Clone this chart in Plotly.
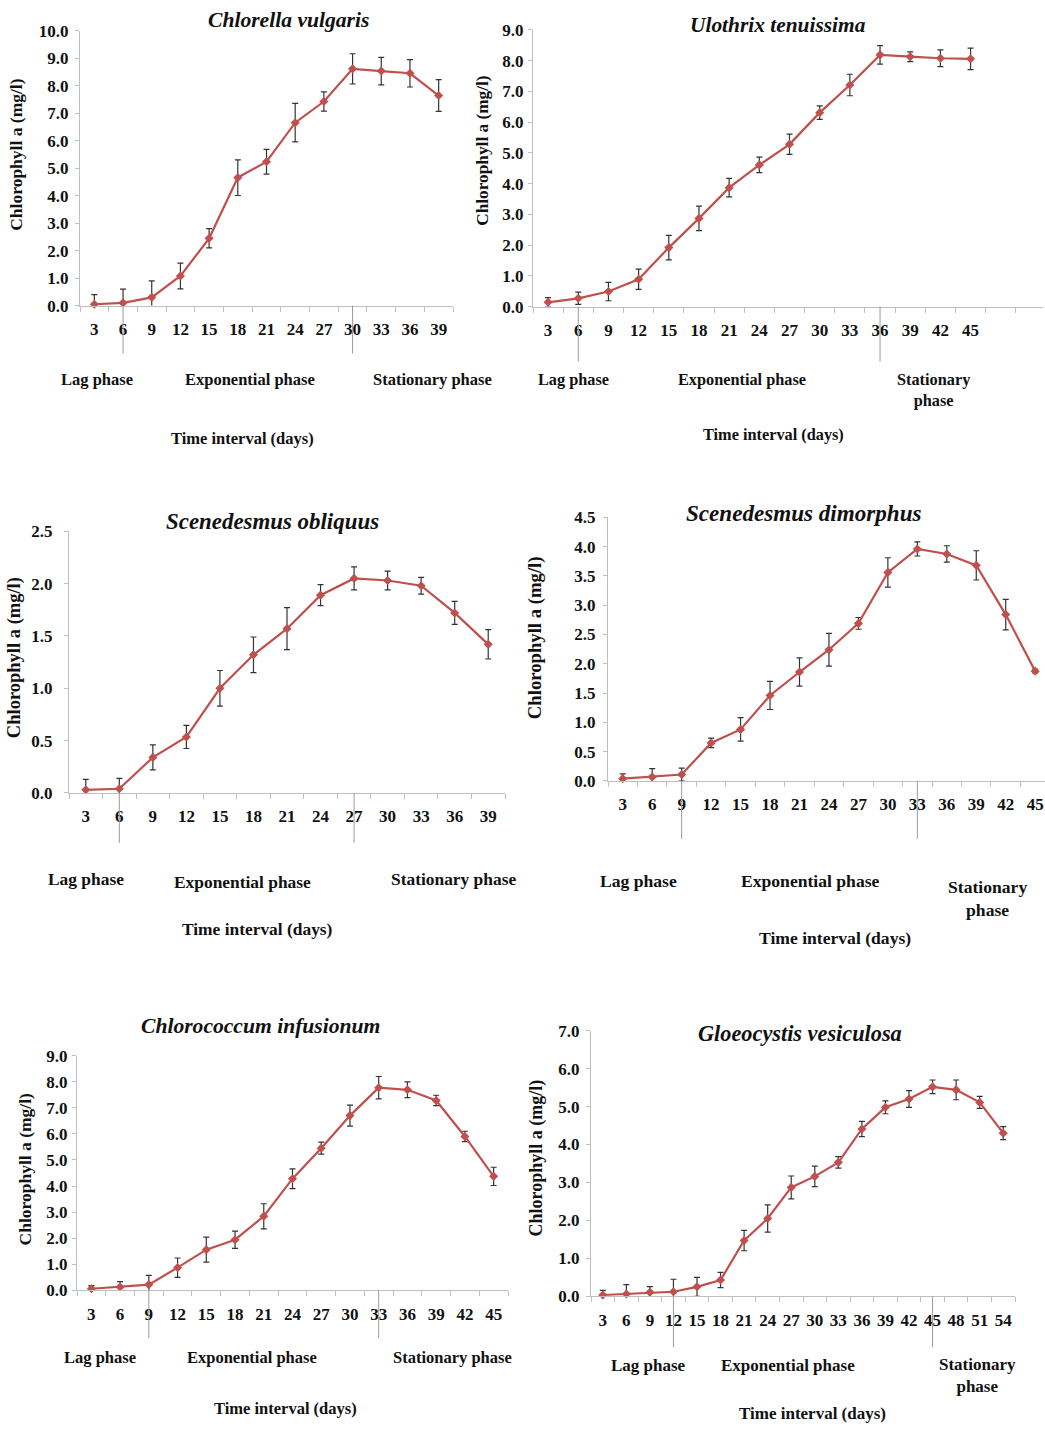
import plotly.graph_objects as go

W, H = 1045, 1429

# ---------------- data ----------------
cv_days = [3, 6, 9, 12, 15, 18, 21, 24, 27, 30, 33, 36, 39]
cv_chl = [0.05, 0.1, 0.3, 1.08, 2.45, 4.66, 5.24, 6.66, 7.43, 8.62, 8.54, 8.46, 7.65]
cv_err = [0.35, 0.5, 0.6, 0.47, 0.35, 0.65, 0.45, 0.7, 0.35, 0.55, 0.5, 0.5, 0.58]

ut_days = [3, 6, 9, 12, 15, 18, 21, 24, 27, 30, 33, 36, 39, 42, 45]
ut_chl = [0.14, 0.27, 0.49, 0.89, 1.92, 2.87, 3.87, 4.61, 5.28, 6.31, 7.21, 8.19, 8.13, 8.08, 8.06]
ut_err = [0.15, 0.2, 0.3, 0.33, 0.4, 0.4, 0.3, 0.25, 0.33, 0.22, 0.35, 0.3, 0.16, 0.27, 0.35]

so_days = [3, 6, 9, 12, 15, 18, 21, 24, 27, 30, 33, 36, 39]
so_chl = [0.03, 0.04, 0.34, 0.535, 1.0, 1.32, 1.57, 1.89, 2.05, 2.03, 1.98, 1.72, 1.42]
so_err = [0.1, 0.1, 0.12, 0.11, 0.17, 0.17, 0.2, 0.1, 0.11, 0.09, 0.08, 0.11, 0.14]

sd_days = [3, 6, 9, 12, 15, 18, 21, 24, 27, 30, 33, 36, 39, 42, 45]
sd_chl = [0.04, 0.07, 0.11, 0.65, 0.88, 1.46, 1.86, 2.24, 2.69, 3.56, 3.96, 3.875, 3.68, 2.84, 1.875]
sd_err = [0.08, 0.14, 0.11, 0.08, 0.2, 0.24, 0.24, 0.28, 0.1, 0.25, 0.12, 0.14, 0.25, 0.26, 0.03]

ci_days = [3, 6, 9, 12, 15, 18, 21, 24, 27, 30, 33, 36, 39, 42, 45]
ci_chl = [0.06, 0.13, 0.22, 0.87, 1.56, 1.94, 2.84, 4.28, 5.45, 6.70, 7.77, 7.69, 7.28, 5.90, 4.37]
ci_err = [0.12, 0.2, 0.35, 0.37, 0.48, 0.33, 0.48, 0.38, 0.23, 0.4, 0.43, 0.3, 0.2, 0.2, 0.35]

gv_days = [3, 6, 9, 12, 15, 18, 21, 24, 27, 30, 33, 36, 39, 42, 45, 48, 51, 54]
gv_chl = [0.035, 0.06, 0.105, 0.12, 0.25, 0.43, 1.47, 2.05, 2.87, 3.16, 3.53, 4.41, 4.98, 5.20, 5.52, 5.44, 5.11, 4.30]
gv_err = [0.12, 0.25, 0.15, 0.33, 0.25, 0.2, 0.27, 0.36, 0.3, 0.27, 0.15, 0.2, 0.17, 0.22, 0.18, 0.26, 0.16, 0.17]

titles = ["Chlorella vulgaris", "Ulothrix tenuissima", "Scenedesmus obliquus",
          "Scenedesmus dimorphus", "Chlorococcum infusionum", "Gloeocystis vesiculosa"]
phase_bounds = [[6, 30], [6, 36], [6, 27], [9, 33], [9, 33], [12, 45]]
y_max = [10.0, 9.0, 2.5, 4.5, 9.0, 7.0]
y_step = [1.0, 1.0, 0.5, 0.5, 1.0, 1.0]

series = [(cv_days, cv_chl, cv_err), (ut_days, ut_chl, ut_err), (so_days, so_chl, so_err),
          (sd_days, sd_chl, sd_err), (ci_days, ci_chl, ci_err), (gv_days, gv_chl, gv_err)]

# ---------------- layout geometry (pixels in the target picture) ----------------
geo = [
    dict(px=(80, 453), py=(29, 304), xr=(1.5, 40.5), title=(288, 18), ytitle=(16, 153), sepb=352,
         lag=(97, 378), exp=(250, 378), stat=(432, 378), stat2=False, time=(242, 437),
         ystand=3, s=1.03),
    dict(px=(533, 1043), py=(28, 305), xr=(1.5, 52.2), title=(778, 23), ytitle=(483, 149), sepb=360,
         lag=(573, 378), exp=(742, 378), stat=(933, 388), stat2=True, time=(773, 433),
         ystand=1, s=1.02),
    dict(px=(69, 505), py=(530, 792), xr=(1.5, 40.5), title=(272, 520), ytitle=(14, 657), sepb=842,
         lag=(86, 878), exp=(242, 881), stat=(453, 878), stat2=False, time=(257, 928),
         ystand=8, s=1.09),
    dict(px=(608, 1045), py=(516, 780), xr=(1.5, 46.0), title=(803, 512), ytitle=(535, 637), sepb=838,
         lag=(638, 880), exp=(810, 880), stat=(987, 898), stat2=True, time=(835, 937),
         ystand=4, s=1.10),
    dict(px=(77, 508), py=(1055, 1290), xr=(1.5, 46.5), title=(260, 1025), ytitle=(25, 1169), sepb=1338,
         lag=(100, 1357), exp=(252, 1357), stat=(452, 1357), stat2=False, time=(285, 1408),
         ystand=1, s=1.03),
    dict(px=(591, 1015), py=(1030, 1296), xr=(1.5, 55.5), title=(800, 1033), ytitle=(536, 1158), sepb=1347,
         lag=(648, 1365), exp=(788, 1365), stat=(977, 1375), stat2=True, time=(812, 1413),
         ystand=3, s=1.06),
]

LINE = "#C0504D"
AX = "#BFBFBF"
FONT = "Liberation Serif"
TXT = "#111111"

# observed vertical mapping of the capture: shown_y = 7 + 0.988 * layout_y
VOFF, VSCL = 7.0, 0.988

def fx(p):
    return p / W

def fy(p):
    return 1 - ((p - VOFF) / VSCL) / H

fig = go.Figure()
annotations = []
shapes = []
layout_axes = {}

def label(text, pos, size, **kw):
    d = dict(text=text, x=fx(pos[0]), y=fy(pos[1]), xref="paper", yref="paper", showarrow=False,
             xanchor="center", yanchor="middle", font=dict(family=FONT, size=size, color=TXT))
    d.update(kw)
    return d

for i, ((d, v, e), g) in enumerate(zip(series, geo)):
    n = i + 1
    s = g["s"]
    xa = "x" if n == 1 else f"x{n}"
    ya = "y" if n == 1 else f"y{n}"
    fig.add_trace(go.Scatter(
        x=d, y=v, xaxis=xa, yaxis=ya, mode="lines+markers",
        line=dict(color=LINE, width=2.2),
        marker=dict(symbol="diamond", size=7, color=LINE),
        error_y=dict(type="data", array=e, visible=True, color="#333333", thickness=1.2, width=3),
        showlegend=False, cliponaxis=False,
    ))
    xkey = "xaxis" if n == 1 else f"xaxis{n}"
    ykey = "yaxis" if n == 1 else f"yaxis{n}"
    layout_axes[xkey] = dict(
        domain=[fx(g["px"][0]), fx(g["px"][1])], anchor=ya, range=list(g["xr"]),
        tickmode="array", tickvals=d, ticktext=[str(t) for t in d],
        ticks="", showgrid=False, zeroline=False, showline=True, linecolor=AX, linewidth=1,
        tickfont=dict(family=FONT, size=17, color=TXT, weight="bold"), ticklabelstandoff=8,
        ticklabeloverflow="allow",
        minor=dict(tick0=1.5, dtick=3, ticks="outside", ticklen=5, tickcolor=AX, tickwidth=1, showgrid=False),
    )
    layout_axes[ykey] = dict(
        domain=[fy(g["py"][1]), fy(g["py"][0])], anchor=xa, range=[0, y_max[i]],
        tickmode="linear", tick0=0, dtick=y_step[i], tickformat=".1f",
        ticks="outside", ticklen=4, tickcolor=AX, showgrid=False, zeroline=False,
        showline=True, linecolor=AX, linewidth=1,
        tickfont=dict(family=FONT, size=17, color=TXT, weight="bold"), ticklabelstandoff=g["ystand"],
    )
    annotations.append(label(f"<b><i>{titles[i]}</i></b>", g["title"], round(21 * s, 1)))
    annotations.append(label("<b>Chlorophyll a (mg/l)</b>", g["ytitle"], round(17 * s, 1), textangle=-90))
    annotations.append(label("<b>Lag phase</b>", g["lag"], round(16 * s, 1)))
    annotations.append(label("<b>Exponential phase</b>", g["exp"], round(16 * s, 1)))
    stat_txt = "<b>Stationary<br>phase</b>" if g["stat2"] else "<b>Stationary phase</b>"
    annotations.append(label(stat_txt, g["stat"], round(16 * s, 1)))
    annotations.append(label("<b>Time interval (days)</b>", g["time"], round(16 * s, 1)))
    for b in phase_bounds[i]:
        shapes.append(dict(type="line", xref=xa, yref="paper", x0=b, x1=b,
                           y0=fy(g["py"][1]), y1=fy(g["sepb"]),
                           line=dict(color="#9a9a9a", width=1)))

fig.update_layout(
    width=W, height=H, margin=dict(l=0, r=0, t=0, b=0),
    paper_bgcolor="white", plot_bgcolor="white",
    annotations=annotations, shapes=shapes, **layout_axes,
)

fig.write_html("out.html", config={"displayModeBar": False},
               post_script="document.body.style.margin='0';document.body.style.overflow='hidden';")
